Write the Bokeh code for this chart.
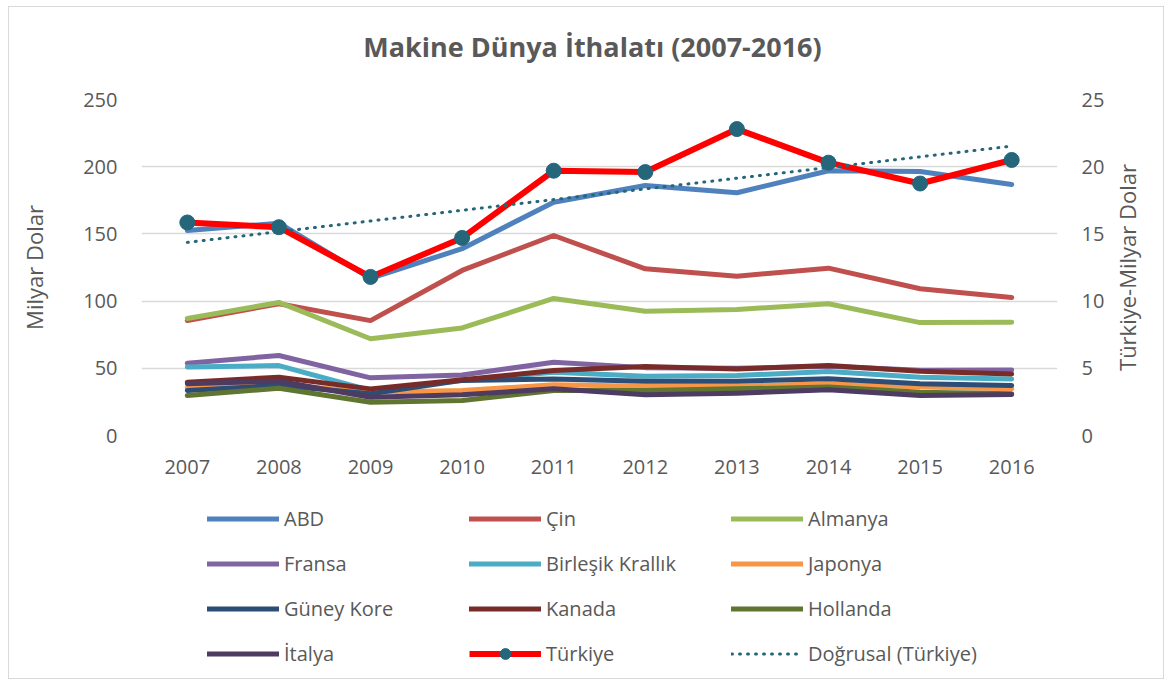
import numpy as np
import math
from bokeh.plotting import figure
from bokeh.layouts import column
from bokeh.models import Range1d, LinearAxis, Legend, LegendItem, FixedTicker, Label
from bokeh.embed import file_html
from bokeh.resources import INLINE

years = list(range(2007, 2017))
abd = [152.5, 158, 117, 139, 173.6, 186, 180.6, 197, 196.4, 186.8]
cin = [85.6, 98, 85.5, 122.8, 148.8, 124, 118.5, 124.5, 109.2, 102.6]
almanya = [87, 99, 72, 80, 102, 92.5, 93.7, 98, 84, 84.3]
fransa = [53.8, 59.5, 42.9, 45, 54.5, 50.5, 50, 51.5, 48.5, 48.8]
birlesik = [51, 52, 33.5, 41, 47, 44, 44.6, 47.6, 43.4, 42]
japonya = [35.5, 38, 32.2, 33.5, 37.7, 36.7, 36.7, 38.5, 36, 34.7]
guney_kore = [33.5, 37.2, 31, 41, 42, 40.4, 40.4, 42.2, 38.5, 37.2]
kanada = [39.7, 43.4, 34.7, 41.4, 48.4, 51.3, 49.5, 52, 47.8, 45.8]
hollanda = [29.8, 35.2, 24.8, 26, 33.5, 33.5, 34.7, 36, 32.2, 31]
italya = [38.5, 40.4, 28.5, 30.3, 34.7, 30.3, 31.5, 34, 29.8, 30.5]
turkiye = [15.85, 15.5, 11.8, 14.7, 19.7, 19.6, 22.8, 20.3, 18.75, 20.5]

left_ticks = [0, 50, 100, 150, 200, 250]
right_ticks = [0, 5, 10, 15, 20, 25]

series = [
    ("ABD", abd, "#4F81BD"),
    ("Çin", cin, "#C0504D"),
    ("Almanya", almanya, "#9BBB59"),
    ("Fransa", fransa, "#8064A2"),
    ("Birleşik Krallık", birlesik, "#4BACC6"),
    ("Japonya", japonya, "#F79646"),
    ("Güney Kore", guney_kore, "#2C4D75"),
    ("Kanada", kanada, "#772C2A"),
    ("Hollanda", hollanda, "#5F7530"),
    ("İtalya", italya, "#4D3B62"),
]

FONT = "Open Sans"
TXT = "#595959"
TEAL = "#25667A"
RED = "#FF0000"

coef = np.polyfit(years, turkiye, 1)
trend = list(np.polyval(coef, years))

def blank_fig(h):
    f = figure(width=1154, height=h, x_range=Range1d(0, 1), y_range=Range1d(0, 1),
               output_backend="svg", toolbar_location=None,
               min_border_left=0, min_border_right=0, min_border_top=0, min_border_bottom=0)
    f.axis.visible = False
    f.grid.visible = False
    f.outline_line_color = None
    return f

# ---------------- title strip ----------------
tf = blank_fig(60)
tf.add_layout(Label(x=451, y=21, x_units="screen", y_units="screen",
                    text="Makine Dünya İthalatı (2007-2016)", text_font=FONT, text_font_size="27px",
                    text_font_style="bold", text_color=TXT, text_align="center", text_baseline="middle"))

# ---------------- main chart ----------------
p = figure(width=1154, height=430, x_range=Range1d(2006.5, 2016.5), y_range=Range1d(0, 250),
           output_backend="svg", toolbar_location=None,
           min_border_left=132, min_border_right=106, min_border_top=32, min_border_bottom=62)
p.extra_y_ranges = {"tr": Range1d(0, 25)}
p.outline_line_color = None
p.xgrid.visible = False
p.ygrid.grid_line_color = "#d9d9d9"
p.ygrid.grid_line_width = 1.3

def style_axis(ax):
    ax.axis_line_color = None
    ax.major_tick_line_color = None
    ax.minor_tick_line_color = None
    ax.major_label_text_font = FONT
    ax.major_label_text_font_size = "20px"
    ax.major_label_text_color = TXT
    ax.axis_label_text_font = FONT
    ax.axis_label_text_font_size = "22px"
    ax.axis_label_text_font_style = "normal"
    ax.axis_label_text_color = TXT

style_axis(p.xaxis[0])
p.xaxis[0].ticker = FixedTicker(ticks=years)
p.xaxis[0].major_label_standoff = 18

style_axis(p.yaxis[0])
p.yaxis[0].ticker = FixedTicker(ticks=left_ticks)
p.yaxis[0].major_label_standoff = 18
p.yaxis[0].axis_label = "Milyar Dolar"
p.yaxis[0].axis_label_standoff = 31

rax = LinearAxis(y_range_name="tr", ticker=FixedTicker(ticks=right_ticks))
style_axis(rax)
rax.major_label_standoff = 18
p.add_layout(rax, "right")

# right-hand axis title, placed in its own side panel so it can be centred and read bottom-to-top
p.add_layout(Label(x=19, y=168, x_units="screen", y_units="screen", angle=math.pi / 2,
                   text="Türkiye-Milyar Dolar", text_font=FONT, text_font_size="22px", text_color=TXT,
                   text_align="center", text_baseline="middle"), "right")

for name, vals, col in series:
    p.line(years, vals, line_color=col, line_width=5, line_cap="round", line_join="round")

p.line(years, turkiye, line_color=RED, line_width=6, line_join="round", y_range_name="tr")
p.scatter(years, turkiye, size=15, fill_color=TEAL, line_color=TEAL, y_range_name="tr")
p.line(years, trend, line_color=TEAL, line_width=3, line_dash="1 7", line_cap="round", y_range_name="tr")

# ---------------- legend strip (same series, ranges chosen so only the legend shows) ----------------
lg = blank_fig(181)

items = []
for name, vals, col in series:
    r = lg.line(years, vals, line_color=col, line_width=5, line_cap="round")
    items.append(LegendItem(label=name, renderers=[r]))
rt = lg.line(years, turkiye, line_color=RED, line_width=6)
st = lg.scatter(years, turkiye, size=15, fill_color=TEAL, line_color=TEAL)
items.append(LegendItem(label="Türkiye", renderers=[rt, st]))
rtr = lg.line(years, trend, line_color=TEAL, line_width=3, line_dash="1 7", line_cap="round")
items.append(LegendItem(label="Doğrusal (Türkiye)", renderers=[rtr]))

legend = Legend(items=items, ncols=3, orientation="horizontal", location=(66, 11),
                glyph_width=72, glyph_height=27, label_standoff=5, label_height=27, label_width=167,
                spacing=18, padding=0, margin=0, border_line_color=None, background_fill_alpha=0,
                label_text_font=FONT, label_text_font_size="20px", label_text_color=TXT)
lg.add_layout(legend, "center")

layout = column(tf, p, lg, spacing=0, styles={"border": "1px solid #d9d9d9", "margin": "6px 0 0 8px"})

open("out.html", "w").write(file_html(layout, INLINE))
